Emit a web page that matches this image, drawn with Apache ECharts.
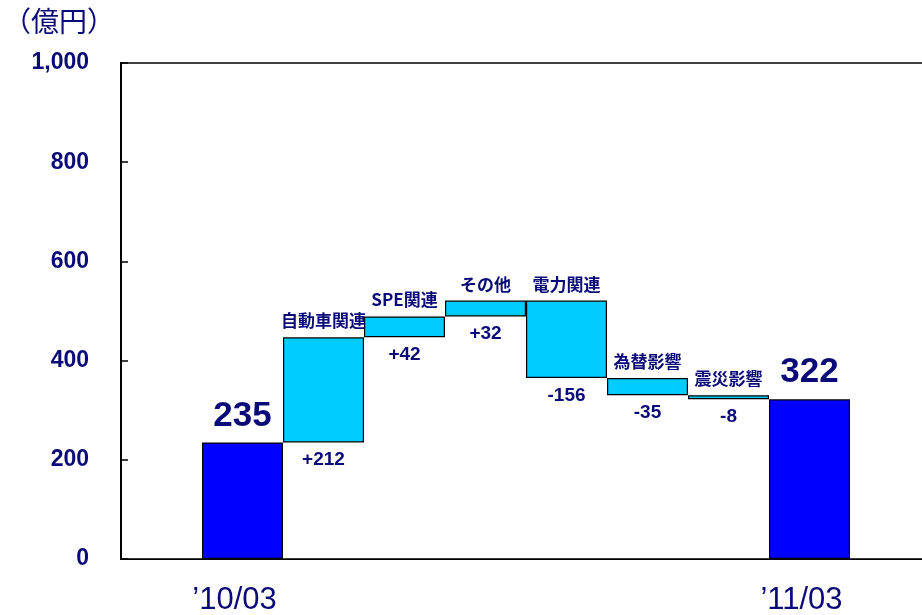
<!DOCTYPE html>
<html><head><meta charset="utf-8">
<script src="https://cdn.jsdelivr.net/npm/echarts@6/dist/echarts.min.js"></script>
<style>html,body{margin:0;padding:0;background:#fff}#c{width:922px;height:615px}</style>
</head><body><div id="c"></div>
<script>
const startLabel = "’10/03";
const endLabel = "’11/03";
const startValue = 235;
const endValue = 322;
const stepNames = ['自動車関連', 'SPE関連', 'その他', '電力関連', '為替影響', '震災影響'];
const stepDeltas = [212, 42, 32, -156, -35, -8];
const yTickValues = [0, 200, 400, 600, 800, 1000];

const navy = '#0a0a78';
const categories = [''].concat([startLabel], stepNames, [endLabel], ['']);
const totalLabel = v => ({show: true, position: 'top', distance: 9, formatter: String(v),
  fontSize: 35, fontFamily: 'Liberation Sans, Arial', fontWeight: 'bold', color: navy});
const baseData = ['-'];
const barData = ['-'];
baseData.push({value: 0, label: {show: false}});
barData.push({value: startValue, itemStyle: {color: '#0000ff'}, label: totalLabel(startValue)});
let cur = startValue;
stepDeltas.forEach((d, i) => {
  const next = cur + d;
  const lo = Math.min(cur, next);
  baseData.push({value: lo, label: {show: true, position: 'insideTop', distance: 8,
    formatter: (d > 0 ? '+' : '') + d, fontSize: 19, fontWeight: 'bold',
    fontFamily: 'Liberation Sans, Arial', color: navy}});
  barData.push({value: Math.abs(d), itemStyle: {color: '#00ccff'},
    label: {show: true, position: 'top', distance: 8, formatter: stepNames[i],
      fontSize: 17, fontWeight: 'bold', fontFamily: 'Noto Sans CJK JP', color: navy}});
  cur = next;
});
baseData.push({value: 0, label: {show: false}});
barData.push({value: endValue, itemStyle: {color: '#0000ff'}, label: totalLabel(endValue)});
baseData.push('-');
barData.push('-');

const chart = echarts.init(document.getElementById('c'), null, {renderer: 'canvas'});
chart.setOption({
  animation: false,
  backgroundColor: '#fff',
  title: {text: '（億円）', left: -2, top: 2,
    textStyle: {fontSize: 28, fontWeight: 'normal', color: navy, fontFamily: 'Noto Sans CJK JP'}},
  grid: {left: 121, top: 63, width: 810, bottom: 56, show: true, borderColor: '#000', borderWidth: 1.5,
    backgroundColor: 'transparent', outerBoundsMode: 'none', containLabel: false},
  xAxis: {
    type: 'category', data: categories,
    axisLine: {lineStyle: {color: '#000', width: 1}},
    axisTick: {show: false},
    axisLabel: {interval: 0, margin: 26, fontSize: 31, color: navy, padding: [0, 16, 0, 0],
      fontFamily: 'Liberation Sans, Arial',
      formatter: v => (v === startLabel || v === endLabel) ? v : ''}
  },
  yAxis: {
    type: 'value', min: 0, max: 1000, interval: 200,
    axisLine: {show: true, lineStyle: {color: '#000', width: 2}},
    axisTick: {show: true, inside: true, length: 7, lineStyle: {color: '#000', width: 1.5}},
    splitLine: {show: false},
    axisLabel: {margin: 32, fontSize: 23, fontWeight: 'bold', color: navy,
      fontFamily: 'Liberation Sans, Arial',
      formatter: v => yTickValues.includes(v) ? v.toLocaleString('en-US') : ''}
  },
  series: [
    {type: 'bar', stack: 'w', data: baseData, barWidth: '100%', barCategoryGap: '0%',
      itemStyle: {color: 'transparent', borderWidth: 0}, silent: true},
    {type: 'bar', stack: 'w', data: barData, barWidth: '100%', barCategoryGap: '0%',
      itemStyle: {borderColor: '#000', borderWidth: 1.2}}
  ]
});
</script></body></html>
